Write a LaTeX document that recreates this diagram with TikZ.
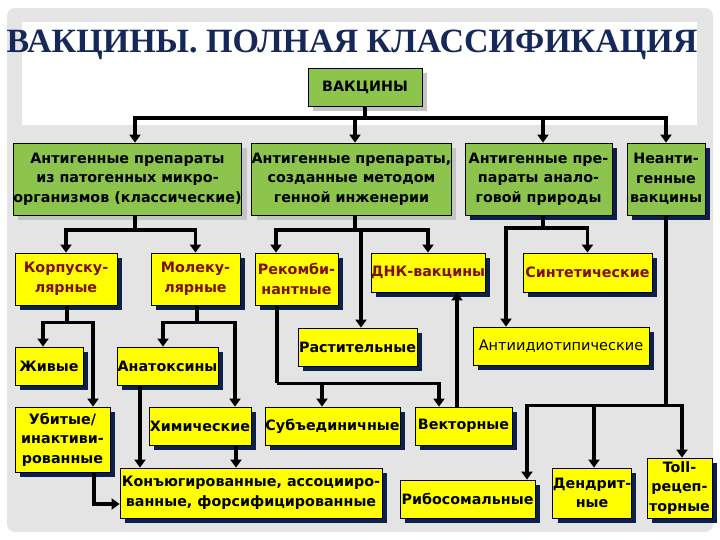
\documentclass[tikz,border=0pt]{standalone}
\usepackage{fontspec}
\setmainfont{DejaVu Sans}
\newfontfamily\titlefont{Liberation Serif}
\usetikzlibrary{arrows.meta,positioning,shadows}
\definecolor{bggray}{HTML}{E4E4E4}
\definecolor{titleblue}{HTML}{16285A}
\definecolor{vgreen}{HTML}{8DC44E}
\definecolor{vyellow}{HTML}{FFFF00}
\definecolor{vshadow}{HTML}{0C2149}
\definecolor{lshadow}{HTML}{C4C4C4}
\definecolor{vred}{HTML}{7D0F0F}
\newcommand{\boxfont}{\fontsize{14.3}{19.5}\selectfont\bfseries}

\begin{document}
\begin{tikzpicture}[x=1pt,y=-1pt,
  every node/.style={inner sep=0pt,align=center,font=\boxfont},
  sz/.style 2 args={minimum width=#1pt,minimum height=#2pt},
  vbox/.style={draw=black,line width=0.8pt},
  gbox/.style={vbox,fill=vgreen,drop shadow={shadow xshift=5pt,shadow yshift=-5pt,fill=lshadow,opacity=1}},
  gboxd/.style={vbox,fill=vgreen,drop shadow={shadow xshift=5pt,shadow yshift=-5pt,fill=vshadow,opacity=1}},
  ybox/.style={vbox,fill=vyellow,drop shadow={shadow xshift=5pt,shadow yshift=-5pt,fill=vshadow,opacity=1}},
  rtxt/.style={text=vred},
  line/.style={line width=3.8pt},
  arr/.style={line,-{Triangle[width=11pt,length=8pt]}}]
\useasboundingbox (0,0) rectangle (720,540);
\fill[bggray,rounded corners=8pt] (7,8) rectangle (713,532);
\fill[white] (22,22) rectangle (697,125);

\node[font=\titlefont\bfseries\fontsize{34}{36}\selectfont,text=titleblue,anchor=base] (title) at (352,53) {ВАКЦИНЫ. ПОЛНАЯ КЛАССИФИКАЦИЯ};
\node[gbox,sz={114}{38}] (vac) at (365,87) {ВАКЦИНЫ};

\node[gbox,sz={225}{72}] (ag) at (127.5,179) {Антигенные препараты\\из патогенных микро-\\организмов (классические)};
\node[gbox,sz={199}{72}] (gi) at (351.5,179) {Антигенные препараты,\\созданные методом\\генной инженерии};
\node[gboxd,sz={147}{72}] (an) at (538.5,179) {Антигенные пре-\\параты анало-\\говой природы};
\node[gboxd,sz={78}{72}] (ne) at (666,179) {Неанти-\\генные\\вакцины};

\node[ybox,rtxt,sz={102}{52}] (korp) at (66,279) {Корпуску-\\лярные};
\node[ybox,rtxt,sz={89}{52}] (mol) at (195.5,279) {Молеку-\\лярные};
\node[ybox,rtxt,sz={83}{52}] (rek) at (296.5,279) {Рекомби-\\нантные};
\node[ybox,rtxt,sz={112}{39}] (dnk) at (428,272.5) {ДНК-вакцины};
\node[ybox,rtxt,sz={129}{39}] (sint) at (587.5,272.5) {Синтетические};

\node[ybox,sz={119}{38}] (rast) at (357.5,347) {Растительные};
\node[ybox,sz={176}{38},font=\fontsize{14.5}{19}\selectfont] (anti) at (561,346) {Антиидиотипические};
\node[ybox,sz={68}{38}] (zhiv) at (49,366) {Живые};
\node[ybox,sz={101}{38}] (anat) at (167.5,366) {Анатоксины};

\node[ybox,sz={95}{65}] (ubit) at (62.5,439.5) {Убитые/\\инактиви-\\рованные};
\node[ybox,sz={102}{38}] (him) at (200,426) {Химические};
\node[ybox,sz={135}{38}] (sub) at (332.5,426) {Субъединичные};
\node[ybox,sz={97}{38}] (vect) at (463.5,426) {Векторные};

\node[ybox,sz={262}{50}] (konj) at (251,493) {Конъюгированные, ассоцииро-\\ванные, форсифицированные};
\node[ybox,sz={135}{38}] (ribo) at (467.5,499) {Рибосомальные};
\node[ybox,sz={78}{50}] (dend) at (592,493) {Дендрит-\\ные};
\node[ybox,sz={65}{60}] (toll) at (679.5,488) {Toll-\\рецеп-\\торные};

\draw[line] (vac.south) -- ++(0,12) coordinate (bus);
\draw[arr] (bus) -| ([xshift=7.5]ag.north);
\draw[arr] (bus) -| ([xshift=3.5]gi.north);
\draw[arr] (bus) -| ([xshift=4.5]an.north);
\draw[arr] (bus) -| (ne.north);

\draw[line] ([xshift=7.5]ag.south) -- ++(0,15) coordinate (agb);
\draw[arr] (agb) -| (korp.north);
\draw[arr] (agb) -| (mol.north);

\draw[line] ([xshift=3.5]gi.south) -- ++(0,15) coordinate (gib);
\draw[arr] (gib) -| ([xshift=-20.5]rek.north);
\draw[arr] (gib) -| (dnk.north);
\draw[arr] (gib) -| ([xshift=3.5]rast.north);

\draw[line] ([xshift=4.5]an.south) -- ++(0,13) coordinate (anb);
\draw[arr] (anb) -| (sint.north);
\draw[arr] (anb) -| ([xshift=-55]anti.north);

\draw[line] (ne.south) -- ++(0,190) coordinate (neb);
\draw[arr] (neb) -| ([xshift=59.5]ribo.north);
\draw[arr] (neb) -| ([xshift=2]dend.north);
\draw[arr] (neb) -| ([xshift=2.5]toll.north);

\draw[line] ([xshift=1]korp.south) -- ++(0,17) coordinate (korpb);
\draw[arr] (korpb) -| ([xshift=-6]zhiv.north);
\draw[arr] (korpb) -| ([xshift=30.5]ubit.north);

\draw[line] ([xshift=1.5]mol.south) -- ++(0,17) coordinate (molb);
\draw[arr] (molb) -| ([xshift=-4.5]anat.north);
\draw[arr] (molb) -| ([xshift=35]him.north);

\draw[arr] ([xshift=-27.5]anat.south) -- ([xshift=-27.5]anat.south |- konj.north);
\draw[arr] ([xshift=36]him.south) -- ([xshift=36]him.south |- konj.north);
\draw[arr] ([xshift=31.5]ubit.south) |- ([yshift=-11]konj.west);

\draw[line] ([xshift=-19.5]rek.south) -- ++(0,78) coordinate (rekb);
\draw[arr] (rekb) -| ([xshift=-10.5]sub.north);
\draw[arr] (rekb) -| ([xshift=-24.5]vect.north);

\draw[arr] ([xshift=-6.5]vect.north) -- ([xshift=-6.5]vect.north |- dnk.south);
\end{tikzpicture}
\end{document}
